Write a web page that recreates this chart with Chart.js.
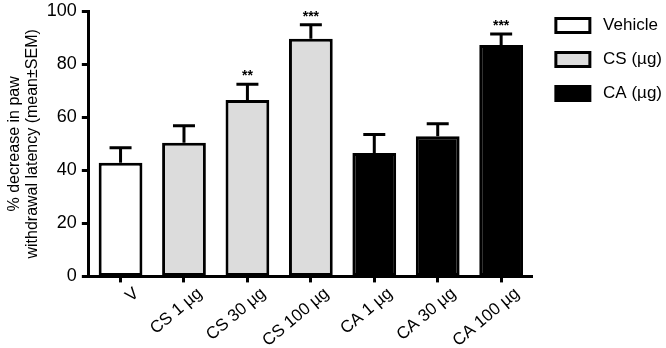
<!DOCTYPE html>
<html>
<head>
<meta charset="utf-8">
<script src="https://cdn.jsdelivr.net/npm/chart.js@4.4.0/dist/chart.umd.min.js"></script>
<style>
  html, body { margin: 0; padding: 0; background: #fff; }
  #wrap { width: 666px; height: 348px; position: relative; }
</style>
</head>
<body>
<div id="wrap"><canvas id="myChart"></canvas></div>
<script>
const labels = ['V', 'CS 1 µg', 'CS 30 µg', 'CS 100 µg', 'CA 1 µg', 'CA 30 µg', 'CA 100 µg'];
const means = [42.9, 50.4, 66.5, 89.6, 46.6, 52.9, 87.3];
const sems = [5.6, 6.4, 6.0, 5.3, 6.9, 4.7, 4.1];
const stars = ['', '', '**', '***', '', '', '***'];
const groupNames = ['Vehicle', 'CS (µg)', 'CA (µg)'];
const groupColors = ['#ffffff', '#dcdcdc', '#000000'];
const groupOf = [0, 1, 1, 1, 2, 2, 2];

const font = 'Liberation Sans, Arial, sans-serif';

// error bars + significance stars
const errorBars = {
  id: 'errorBars',
  afterDatasetsDraw(chart) {
    const ctx = chart.ctx;
    const y = chart.scales.y;
    const meta = chart.getDatasetMeta(0);
    ctx.save();
    ctx.strokeStyle = '#000';
    ctx.lineWidth = 3;
    meta.data.forEach((bar, i) => {
      const yb = y.getPixelForValue(means[i]);
      const yt = y.getPixelForValue(means[i] + sems[i]);
      ctx.beginPath();
      ctx.moveTo(bar.x, yb);
      ctx.lineTo(bar.x, yt);
      ctx.moveTo(bar.x - 11, yt);
      ctx.lineTo(bar.x + 11, yt);
      ctx.stroke();
      if (stars[i]) {
        ctx.fillStyle = '#000';
        ctx.font = 'bold 14px ' + font;
        ctx.textAlign = 'center';
        ctx.textBaseline = 'bottom';
        ctx.fillText(stars[i], bar.x, yt - 1);
      }
    });
    ctx.restore();
  }
};

// nudge the legend a bit to the right of its layout box
const legendShift = {
  id: 'legendShift',
  afterLayout(chart) {
    chart.legend.left += 6;
    chart.legend.right += 6;
  }
};

let mychart = new Chart(document.getElementById('myChart'), {
  type: 'bar',
  data: {
    labels: labels,
    datasets: [{
      data: means,
      backgroundColor: groupOf.map(g => groupColors[g]),
      borderColor: '#000',
      borderWidth: 3,
      borderSkipped: false,
      barPercentage: 0.69,
      categoryPercentage: 1
    }]
  },
  options: {
    responsive: true,
    maintainAspectRatio: false,
    animation: false,
    layout: { padding: { top: 0, right: 0, left: 0, bottom: -4 } },
    plugins: {
      tooltip: { enabled: false },
      legend: {
        position: 'right',
        align: 'start',
        labels: {
          color: '#000',
          font: { family: font, size: 17 },
          boxWidth: 34,
          boxHeight: 14,
          padding: 17,
          generateLabels: () => groupNames.map((n, i) => ({
            text: ' ' + n,
            fillStyle: groupColors[i],
            strokeStyle: '#000',
            lineWidth: 3,
            hidden: false,
            datasetIndex: 0
          }))
        }
      }
    },
    scales: {
      x: {
        offset: true,
        grid: { display: true, drawOnChartArea: false, offset: false, tickLength: 6, tickWidth: 3, tickColor: '#000' },
        border: { color: '#000', width: 3 },
        ticks: {
          color: '#000',
          font: { family: font, size: 17, lineHeight: 0.9 },
          maxRotation: 40,
          minRotation: 40,
          autoSkip: false,
          labelOffset: 16
        }
      },
      y: {
        min: 0,
        max: 100,
        grid: { display: true, drawOnChartArea: false, tickLength: 7, tickWidth: 3, tickColor: '#000' },
        border: { color: '#000', width: 3 },
        ticks: {
          stepSize: 20,
          color: '#000',
          font: { family: font, size: 18, lineHeight: 0.7 },
          padding: 5
        },
        title: {
          display: true,
          text: ['% decrease in paw', 'withdrawal latency (mean±SEM)'],
          color: '#000',
          font: { family: font, size: 16, lineHeight: 1.15 },
          padding: { top: 5, bottom: 0 }
        }
      }
    }
  },
  plugins: [errorBars, legendShift]
});
</script>
</body>
</html>
